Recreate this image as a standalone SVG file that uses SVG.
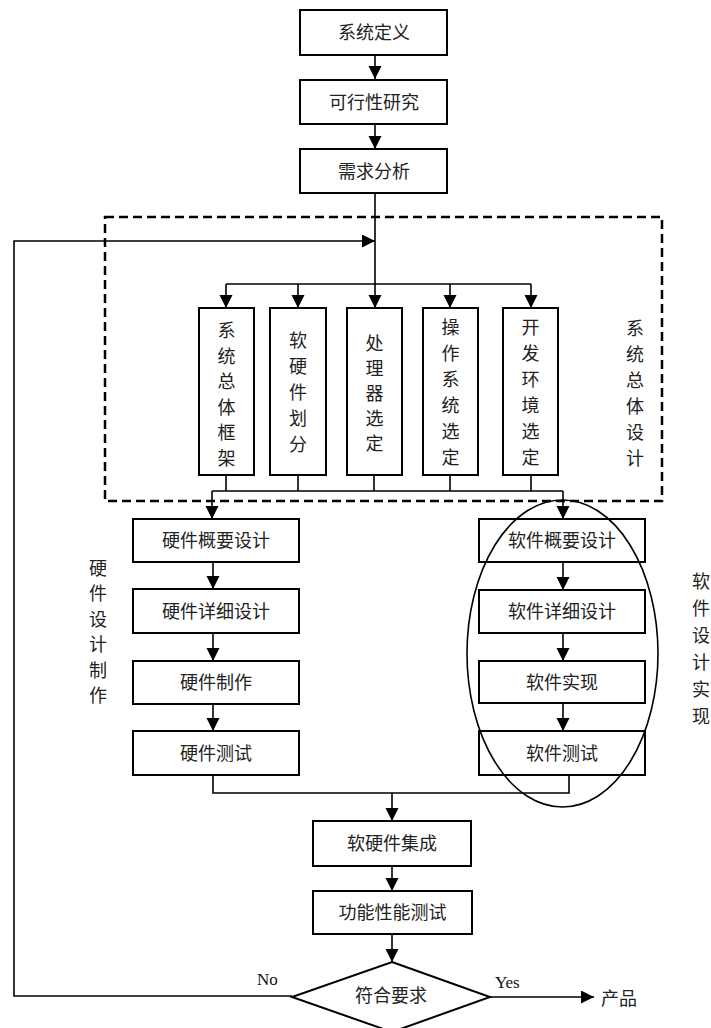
<svg xmlns="http://www.w3.org/2000/svg" width="711" height="1028" viewBox="0 0 711 1028">
<style>
.box{fill:#fff;stroke:#000;stroke-width:2}
.ln{fill:none;stroke:#000;stroke-width:1.6}
.t{font-family:"Noto Sans CJK SC","Noto Sans",sans-serif;font-size:18px;fill:#222;text-anchor:middle}
.e{font-family:"Liberation Serif",serif;font-size:17px;fill:#111}
.dash{fill:none;stroke:#000;stroke-width:2.5;stroke-dasharray:9,5}
</style>
<defs>
<marker id="ah" markerWidth="14" markerHeight="14" refX="13" refY="6.5" orient="auto" markerUnits="userSpaceOnUse">
<path d="M0,0 L13,6.5 L0,13 z" fill="#000"/>
</marker>
</defs>
<rect width="711" height="1028" fill="#fff"/>

<g id="system-design-frame">
<rect class="dash" x="105" y="217" width="557" height="284"/>
</g>

<g id="connectors">
<line class="ln" x1="375" y1="55" x2="375" y2="79" marker-end="url(#ah)"/>
<line class="ln" x1="375" y1="124" x2="375" y2="149" marker-end="url(#ah)"/>
<line class="ln" x1="375" y1="193" x2="375" y2="284"/>
<polyline class="ln" points="292,996 14,996 14,241 375,241" marker-end="url(#ah)"/>
<line class="ln" x1="226" y1="284" x2="531" y2="284"/>
<line class="ln" x1="226" y1="284" x2="226" y2="308" marker-end="url(#ah)"/>
<line class="ln" x1="298" y1="284" x2="298" y2="308" marker-end="url(#ah)"/>
<line class="ln" x1="375" y1="284" x2="375" y2="308" marker-end="url(#ah)"/>
<line class="ln" x1="450" y1="284" x2="450" y2="308" marker-end="url(#ah)"/>
<line class="ln" x1="531" y1="284" x2="531" y2="308" marker-end="url(#ah)"/>
<line class="ln" x1="226" y1="475" x2="226" y2="491"/>
<line class="ln" x1="298" y1="475" x2="298" y2="491"/>
<line class="ln" x1="374" y1="475" x2="374" y2="491"/>
<line class="ln" x1="450" y1="475" x2="450" y2="491"/>
<line class="ln" x1="531" y1="475" x2="531" y2="491"/>
<line class="ln" x1="212" y1="491" x2="563" y2="491"/>
<line class="ln" x1="212" y1="491" x2="212" y2="519" marker-end="url(#ah)"/>
<line class="ln" x1="563" y1="491" x2="563" y2="519" marker-end="url(#ah)"/>
<line class="ln" x1="213" y1="562" x2="213" y2="589" marker-end="url(#ah)"/>
<line class="ln" x1="213" y1="633" x2="213" y2="661" marker-end="url(#ah)"/>
<line class="ln" x1="213" y1="704" x2="213" y2="731" marker-end="url(#ah)"/>
<line class="ln" x1="563" y1="562" x2="563" y2="590" marker-end="url(#ah)"/>
<line class="ln" x1="563" y1="633" x2="563" y2="661" marker-end="url(#ah)"/>
<line class="ln" x1="563" y1="703" x2="563" y2="731" marker-end="url(#ah)"/>
<polyline class="ln" points="213,775 213,793 569,793 569,775"/>
<line class="ln" x1="392" y1="793" x2="392" y2="821" marker-end="url(#ah)"/>
<line class="ln" x1="392" y1="866" x2="392" y2="891" marker-end="url(#ah)"/>
<line class="ln" x1="392" y1="934" x2="392" y2="962" marker-end="url(#ah)"/>
<line class="ln" x1="490" y1="997" x2="594" y2="997" marker-end="url(#ah)"/>
</g>

<g id="n-system-def"><rect class="box" x="300" y="10" width="147" height="45"/><text class="t" x="374" y="39">系统定义</text></g>
<g id="n-feasibility"><rect class="box" x="300" y="80" width="147" height="44"/><text class="t" x="374" y="108.5">可行性研究</text></g>
<g id="n-requirements"><rect class="box" x="300" y="149" width="147" height="44"/><text class="t" x="374" y="177.5">需求分析</text></g>

<g id="n-arch"><rect class="box" x="199" y="308" width="55" height="167"/>
<text class="t" x="226.5"><tspan x="226.5" y="337">系</tspan><tspan x="226.5" y="362.5">统</tspan><tspan x="226.5" y="388">总</tspan><tspan x="226.5" y="413.5">体</tspan><tspan x="226.5" y="439">框</tspan><tspan x="226.5" y="464.5">架</tspan></text></g>
<g id="n-hwsw-split"><rect class="box" x="270" y="308" width="56" height="167"/>
<text class="t" x="298"><tspan x="298" y="347">软</tspan><tspan x="298" y="373">硬</tspan><tspan x="298" y="399">件</tspan><tspan x="298" y="425">划</tspan><tspan x="298" y="451">分</tspan></text></g>
<g id="n-cpu"><rect class="box" x="347" y="308" width="55" height="167"/>
<text class="t" x="374.5"><tspan x="374.5" y="350">处</tspan><tspan x="374.5" y="375">理</tspan><tspan x="374.5" y="400">器</tspan><tspan x="374.5" y="425">选</tspan><tspan x="374.5" y="450">定</tspan></text></g>
<g id="n-os"><rect class="box" x="423" y="308" width="55" height="167"/>
<text class="t" x="450.5"><tspan x="450.5" y="334">操</tspan><tspan x="450.5" y="360">作</tspan><tspan x="450.5" y="386">系</tspan><tspan x="450.5" y="412">统</tspan><tspan x="450.5" y="438">选</tspan><tspan x="450.5" y="464">定</tspan></text></g>
<g id="n-devenv"><rect class="box" x="503" y="308" width="55" height="167"/>
<text class="t" x="530.5"><tspan x="530.5" y="334">开</tspan><tspan x="530.5" y="360">发</tspan><tspan x="530.5" y="386">环</tspan><tspan x="530.5" y="412">境</tspan><tspan x="530.5" y="438">选</tspan><tspan x="530.5" y="464">定</tspan></text></g>

<g id="label-system-design">
<text class="t" x="635"><tspan x="635" y="334.5">系</tspan><tspan x="635" y="360.5">统</tspan><tspan x="635" y="386.5">总</tspan><tspan x="635" y="412.5">体</tspan><tspan x="635" y="438.5">设</tspan><tspan x="635" y="464.5">计</tspan></text></g>

<g id="n-hw1"><rect class="box" x="133" y="519" width="166" height="43"/><text class="t" x="216" y="547">硬件概要设计</text></g>
<g id="n-hw2"><rect class="box" x="133" y="589" width="166" height="44"/><text class="t" x="216" y="617.5">硬件详细设计</text></g>
<g id="n-hw3"><rect class="box" x="133" y="661" width="166" height="43"/><text class="t" x="216" y="689">硬件制作</text></g>
<g id="n-hw4"><rect class="box" x="133" y="731" width="166" height="44"/><text class="t" x="216" y="759.5">硬件测试</text></g>

<g id="label-hw">
<text class="t" x="98"><tspan x="98" y="574.5">硬</tspan><tspan x="98" y="600">件</tspan><tspan x="98" y="625.5">设</tspan><tspan x="98" y="651">计</tspan><tspan x="98" y="676.5">制</tspan><tspan x="98" y="702">作</tspan></text></g>

<g id="n-sw1"><rect class="box" x="479" y="519" width="166" height="43"/><text class="t" x="562" y="547">软件概要设计</text></g>
<g id="n-sw2"><rect class="box" x="479" y="590" width="166" height="43"/><text class="t" x="562" y="618">软件详细设计</text></g>
<g id="n-sw3"><rect class="box" x="479" y="661" width="166" height="42"/><text class="t" x="562" y="688.5">软件实现</text></g>
<g id="n-sw4"><rect class="box" x="479" y="731" width="166" height="44"/><text class="t" x="562" y="759.5">软件测试</text></g>

<g id="sw-ellipse"><ellipse cx="562.5" cy="653.5" rx="95.5" ry="153.5" fill="none" stroke="#000" stroke-width="1.6"/></g>

<g id="label-sw">
<text class="t" x="701"><tspan x="701" y="587.5">软</tspan><tspan x="701" y="614.5">件</tspan><tspan x="701" y="641.5">设</tspan><tspan x="701" y="668.5">计</tspan><tspan x="701" y="695.5">实</tspan><tspan x="701" y="722.5">现</tspan></text></g>

<g id="n-integrate"><rect class="box" x="313" y="821" width="158" height="45"/><text class="t" x="392" y="850">软硬件集成</text></g>
<g id="n-functest"><rect class="box" x="313" y="891" width="159" height="43"/><text class="t" x="392.5" y="919">功能性能测试</text></g>

<g id="n-decision"><polygon points="392,962 490,997 392,1032 292,997" fill="#fff" stroke="#000" stroke-width="2"/><text class="t" x="391" y="1002">符合要求</text></g>

<g id="labels-branch">
<text class="e" x="257" y="985">No</text>
<text class="e" x="495" y="988">Yes</text>
<text class="t" x="619" y="1004.5">产品</text>
</g>
</svg>
